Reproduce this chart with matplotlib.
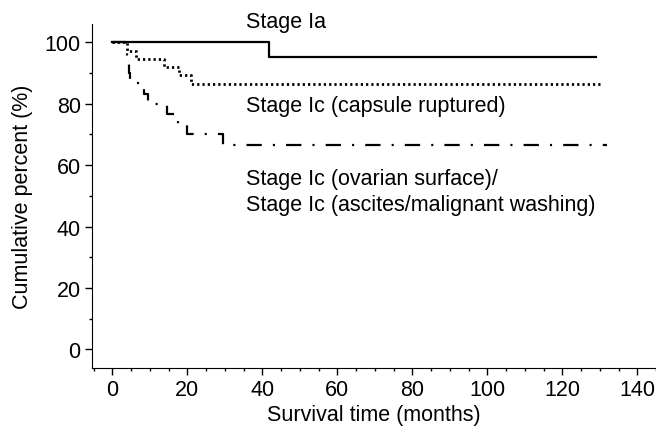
import matplotlib
matplotlib.use("Agg")
import matplotlib.pyplot as plt
from matplotlib.ticker import MultipleLocator

plt.rcParams["font.family"] = ["Liberation Sans", "DejaVu Sans"]
plt.rcParams["lines.scale_dashes"] = False

# Kaplan-Meier style step curves (time in months, cumulative percent)
ia_time = [0, 41.8, 129]
ia_pct = [100, 95.1, 95.1]

rupt_time = [0, 3.8, 6.2, 13.7, 17.7, 20.9, 130]
rupt_pct = [100, 97.3, 94.6, 91.9, 89.2, 86.5, 86.5]

surf_time = [0, 3.5, 4.0, 4.3, 4.8, 8.3, 9.5, 14.5, 17.5, 20.0, 29.5, 132]
surf_pct = [100, 96.7, 93.3, 90.0, 86.7, 83.3, 80.0, 76.7, 73.3, 70.0, 66.7, 66.7]

labels = [
    "Stage Ia",
    "Stage Ic (capsule ruptured)",
    "Stage Ic (ovarian surface)/\nStage Ic (ascites/malignant washing)",
]

FS = 15.5

fig = plt.figure(figsize=(6.56, 4.35), dpi=100)
ax = fig.add_axes([0.140, 0.152, 0.86, 0.791])

ax.step(ia_time, ia_pct, where="post", color="black", linewidth=1.6)
ax.step(rupt_time, rupt_pct, where="post", color="black", linewidth=2.0,
        linestyle=(0, (1.6, 2.2)))
ax.step(surf_time, surf_pct, where="post", color="black", linewidth=1.6,
        linestyle=(0, (11, 8, 1.5, 8)))

ax.text(35.7, 106.6, labels[0], fontsize=FS, va="center", ha="left", clip_on=False)
ax.text(35.7, 79.5, labels[1], fontsize=FS, va="center", ha="left")
ax.text(35.7, 51.4, labels[2], fontsize=FS, va="center", ha="left", linespacing=1.3)

ax.set_xlim(-5.5, 145)
ax.set_ylim(-6, 106)
ax.xaxis.set_major_locator(MultipleLocator(20))
ax.xaxis.set_minor_locator(MultipleLocator(5))
ax.yaxis.set_major_locator(MultipleLocator(20))
ax.yaxis.set_minor_locator(MultipleLocator(10))
ax.tick_params(which="major", length=5, width=1, labelsize=FS, direction="out", pad=3)
ax.tick_params(which="minor", length=2.5, width=1, direction="out")
ax.spines["top"].set_visible(False)
ax.spines["right"].set_visible(False)
ax.set_xlabel("Survival time (months)", fontsize=FS, labelpad=3)
ax.set_ylabel("Cumulative percent (%)", fontsize=FS, labelpad=8)

fig.savefig("out.png", dpi=100, facecolor="white")
